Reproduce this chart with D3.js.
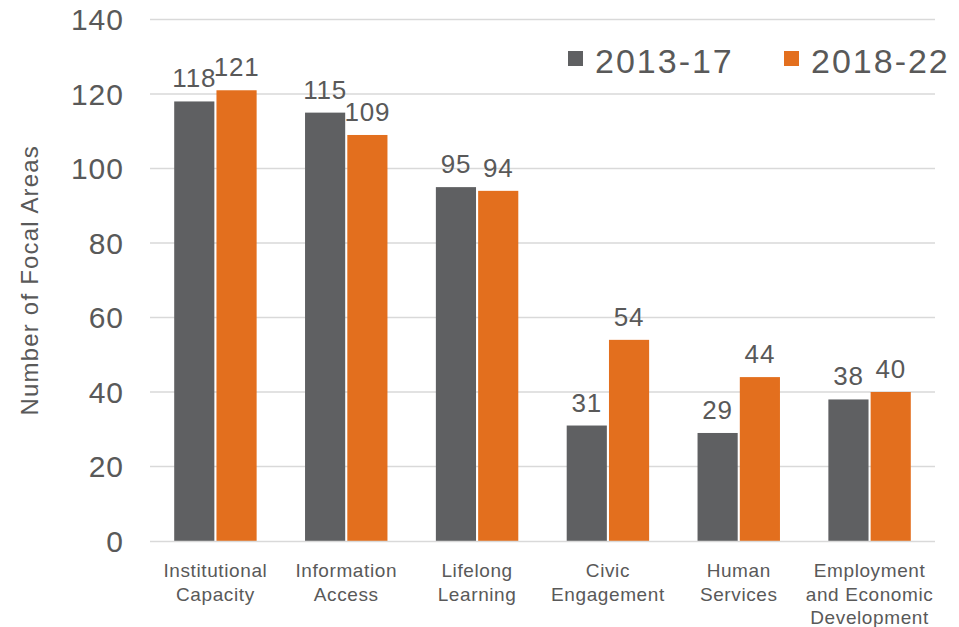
<!DOCTYPE html>
<html lang="en">
<head>
    <meta charset="UTF-8"/>
    <title>Focal areas</title>
    <script src="https://d3js.org/d3.v7.min.js" charset="utf-8"></script>
    <style type="text/css">
        body { margin: 0; background: #ffffff; }
        text { font-family: "Liberation Sans", Arial, sans-serif; fill: #595959; }
        .grid line { stroke: #d9d9d9; stroke-width: 1.5px; }
    </style>
</head>
<body>
<svg width="959" height="627"></svg>
<script type="text/javascript">
    // data
    var categories = [
        ["Institutional", "Capacity"],
        ["Information", "Access"],
        ["Lifelong", "Learning"],
        ["Civic", "Engagement"],
        ["Human", "Services"],
        ["Employment", "and Economic", "Development"]
    ];
    var seriesNames = ["2013-17", "2018-22"];
    var values2013 = [118, 115, 95, 31, 29, 38];
    var values2018 = [121, 109, 94, 54, 44, 40];
    var yTicks = [0, 20, 40, 60, 80, 100, 120, 140];
    var colors = ["#5f6062", "#e36f1e"];

    var svg = d3.select("svg");
    var plotLeft = 150, plotRight = 935, plotTop = 19.5, plotBottom = 541;

    var keys = categories.map(function(c) { return c.join(" "); });

    var x0 = d3.scaleBand()
        .domain(keys)
        .range([plotLeft, plotRight])
        .paddingInner(0.37)
        .paddingOuter(0.185);

    var x1 = d3.scaleBand()
        .domain(seriesNames)
        .range([0, x0.bandwidth()])
        .paddingInner(0.05);

    var y = d3.scaleLinear()
        .domain([0, 140])
        .range([plotBottom, plotTop]);

    // gridlines
    svg.append("g")
        .attr("class", "grid")
        .selectAll("line")
        .data(yTicks.slice(1))
        .enter().append("line")
        .attr("x1", plotLeft)
        .attr("x2", plotRight)
        .attr("y1", function(d) { return y(d); })
        .attr("y2", function(d) { return y(d); });

    // y tick labels
    svg.append("g")
        .selectAll("text")
        .data(yTicks)
        .enter().append("text")
        .attr("x", 124)
        .attr("y", function(d) { return y(d); })
        .attr("dy", "0.36em")
        .style("text-anchor", "end")
        .style("font-size", "30px")
        .style("letter-spacing", "1px")
        .text(function(d) { return d; });

    // y axis title
    svg.append("text")
        .attr("transform", "translate(38," + (plotTop + plotBottom) / 2 + ") rotate(-90)")
        .style("text-anchor", "middle")
        .style("font-size", "24px")
        .style("letter-spacing", "1.2px")
        .text("Number of Focal Areas");

    var rows = keys.map(function(k, i) {
        return { key: k, lines: categories[i], vals: [values2013[i], values2018[i]] };
    });

    var groups = svg.append("g")
        .selectAll("g")
        .data(rows)
        .enter().append("g")
        .attr("transform", function(d) { return "translate(" + x0(d.key) + ",0)"; });

    var bars = groups.selectAll("g.bar")
        .data(function(d) {
            return d.vals.map(function(v, j) { return { name: seriesNames[j], value: v, idx: j }; });
        })
        .enter().append("g")
        .attr("class", "bar");

    bars.append("rect")
        .attr("x", function(d) { return x1(d.name); })
        .attr("y", function(d) { return y(d.value); })
        .attr("width", x1.bandwidth())
        .attr("height", function(d) { return y(0) - y(d.value); })
        .attr("fill", function(d) { return colors[d.idx]; });

    bars.append("text")
        .attr("x", function(d) { return x1(d.name) + x1.bandwidth() / 2; })
        .attr("y", function(d) { return y(d.value) - 14; })
        .style("text-anchor", "middle")
        .style("font-size", "26px")
        .style("letter-spacing", "0.8px")
        .text(function(d) { return d.value; });

    // x axis line
    svg.append("line")
        .attr("x1", plotLeft)
        .attr("x2", plotRight)
        .attr("y1", y(0) + 0.5)
        .attr("y2", y(0) + 0.5)
        .attr("stroke", "#d9d9d9")
        .attr("stroke-width", 1.5);

    // category labels
    var catText = svg.append("g")
        .selectAll("text")
        .data(rows)
        .enter().append("text")
        .attr("y", 577)
        .style("text-anchor", "middle")
        .style("font-size", "19px")
        .style("letter-spacing", "0.6px");

    catText.selectAll("tspan")
        .data(function(d) { return d.lines.map(function(l) { return { key: d.key, line: l }; }); })
        .enter().append("tspan")
        .attr("x", function(d) { return x0(d.key) + x0.bandwidth() / 2; })
        .attr("dy", function(d, i) { return i === 0 ? 0 : 23.5; })
        .text(function(d) { return d.line; });

    // legend
    var legendX = [568, 784];
    var legend = svg.append("g")
        .selectAll("g")
        .data(seriesNames)
        .enter().append("g")
        .attr("transform", function(d, i) { return "translate(" + legendX[i] + ",51)"; });

    legend.append("rect")
        .attr("width", 15)
        .attr("height", 15)
        .attr("fill", function(d, i) { return colors[i]; });

    legend.append("text")
        .attr("x", 27)
        .attr("y", 22)
        .style("font-size", "34px")
        .style("letter-spacing", "2px")
        .text(function(d) { return d; });
</script>
</body>
</html>
